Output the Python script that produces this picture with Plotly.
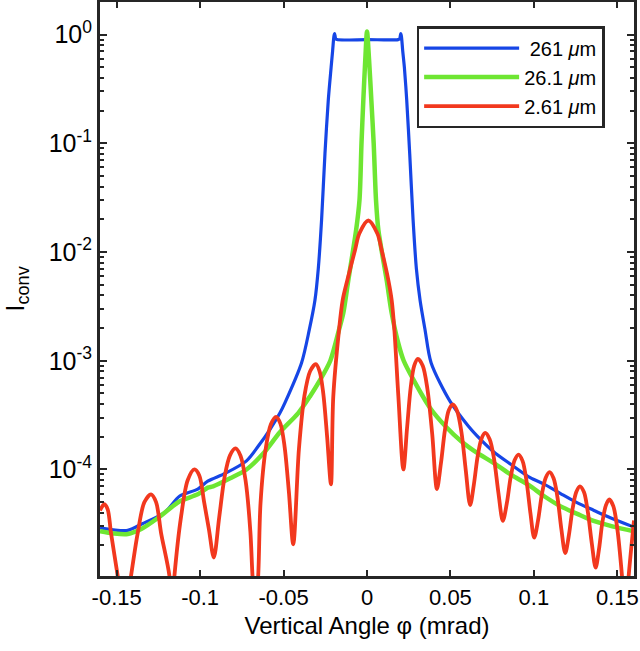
import plotly.graph_objects as go

# ---------------- data ----------------
blue_x = [-0.160, -0.152, -0.1434, -0.135, -0.1214, -0.1122, -0.1014, -0.0954, -0.0850,
          -0.0722, -0.0650, -0.0582, -0.0522, -0.0492, -0.0392, -0.0346, -0.0312, -0.0292,
          -0.0272, -0.0252, -0.0232, -0.0215, -0.0206, -0.0198, -0.0194, -0.0188, -0.0180,
          0.0000, 0.0186, 0.0196, 0.0202, 0.0206, 0.0214, 0.0224, 0.0238, 0.0256, 0.0276,
          0.0296, 0.0318, 0.0348, 0.0384, 0.0498, 0.0608, 0.0658, 0.0760, 0.0864, 0.0978,
          0.1064, 0.1160, 0.1258, 0.1360, 0.1458, 0.1600]
blue_y = [2.9e-5, 2.78e-5, 2.75e-5, 3.15e-5, 4.0e-5, 5.7e-5, 6.6e-5, 7.8e-5, 9.2e-5,
          1.2e-4, 1.65e-4, 2.33e-4, 3.3e-4, 4.1e-4, 9.6e-4, 1.92e-3, 3.6e-3, 7.0e-3,
          0.02, 0.08, 0.25, 0.5, 0.71, 0.97, 1.02, 0.92, 0.90,
          0.90, 0.90, 0.92, 1.02, 0.97, 0.71, 0.5, 0.25, 0.08, 0.02,
          7.0e-3, 3.6e-3, 1.92e-3, 9.6e-4, 4.23e-4, 2.5e-4, 2.05e-4, 1.45e-4, 1.11e-4, 8.4e-5,
          7.3e-5, 6.0e-5, 4.95e-5, 4.2e-5, 3.6e-5, 2.95e-5]

green_x = [-0.160, -0.152, -0.1434, -0.135, -0.124, -0.1122, -0.1014, -0.0954, -0.0922,
           -0.0820, -0.0722, -0.0622, -0.0522, -0.0412, -0.0342, -0.0280, -0.0220, -0.0168,
           -0.0142, -0.0112, -0.0065, -0.0045, -0.0033, -0.0022, -0.0010, 0.0000, 0.0012,
           0.0026, 0.0040, 0.0054, 0.0068, 0.0118, 0.0148, 0.0185, 0.0220, 0.0278, 0.0378,
           0.0470, 0.0568, 0.0660, 0.0758, 0.0860, 0.0968, 0.1060, 0.1158, 0.1260, 0.1358,
           0.1470, 0.1600]
green_y = [2.7e-5, 2.58e-5, 2.55e-5, 2.85e-5, 3.7e-5, 5.1e-5, 5.9e-5, 6.8e-5, 7.0e-5,
           8.3e-5, 1.0e-4, 1.4e-4, 2.2e-4, 3.3e-4, 4.7e-4, 6.7e-4, 1.0e-3, 1.92e-3,
           2.74e-3, 5.5e-3, 0.016, 0.03, 0.1, 0.25, 0.6, 1.07, 0.6,
           0.25, 0.1, 0.03, 0.016, 5.5e-3, 2.74e-3, 1.5e-3, 1.0e-3, 6.7e-4, 3.68e-4,
           2.5e-4, 1.8e-4, 1.42e-4, 1.15e-4, 9.0e-5, 7.2e-5, 5.7e-5, 4.6e-5, 3.9e-5, 3.36e-5,
           3.0e-5, 2.7e-5]

red_x = [-0.1600, -0.1574, -0.1554, -0.1534, -0.1494, -0.1454, -0.1414, -0.1374, -0.1334,
         -0.1294, -0.1264, -0.1234, -0.1184, -0.1169, -0.1154, -0.1114, -0.1074, -0.1034,
         -0.1005, -0.0976, -0.0947, -0.0918, -0.0886, -0.0853, -0.0821, -0.0788, -0.0758,
         -0.0728, -0.0699, -0.0686, -0.0669, -0.0652, -0.0638, -0.0607, -0.0576, -0.0545,
         -0.0519, -0.0494, -0.0468, -0.0442, -0.0408, -0.0375, -0.0341, -0.0307, -0.0284,
         -0.0262, -0.0239, -0.0216, -0.0202, -0.0168, -0.0146, -0.0118, -0.0072, -0.0046,
         0.0008, 0.0062, 0.0088, 0.0128, 0.0148, 0.0164, 0.0188, 0.0218, 0.0240, 0.0262,
         0.0283, 0.0305, 0.0334, 0.0362, 0.0391, 0.0419, 0.0443, 0.0467, 0.0490, 0.0514,
         0.0540, 0.0566, 0.0592, 0.0618, 0.0640, 0.0663, 0.0686, 0.0708, 0.0735, 0.0761,
         0.0788, 0.0814, 0.0838, 0.0861, 0.0885, 0.0908, 0.0932, 0.0955, 0.0979, 0.1002,
         0.1025, 0.1048, 0.1071, 0.1094, 0.1118, 0.1141, 0.1165, 0.1188, 0.1210, 0.1232,
         0.1254, 0.1276, 0.1300, 0.1323, 0.1347, 0.1370, 0.1390, 0.1411, 0.1432, 0.1452,
         0.1476, 0.1500, 0.1528, 0.1548, 0.1568, 0.1600]
red_y = [4.2e-5, 4.8e-5, 4.3e-5, 2.6e-5, 1.05e-5, 4.0e-6, 1.05e-5, 2.6e-5, 5.0e-5,
         5.9e-5, 5.0e-5, 2.6e-5, 1.05e-5, 5.0e-6, 1.05e-5, 3.7e-5, 8.0e-5, 1.0e-4,
         8.8e-5, 5.0e-5, 2.8e-5, 1.55e-5, 3.6e-5, 8.6e-5, 1.35e-4, 1.56e-4, 1.34e-4,
         8.0e-5, 2.7e-5, 1.05e-5, 5.0e-6, 1.05e-5, 4.9e-5, 1.55e-4, 2.6e-4, 3.05e-4,
         2.64e-4, 1.63e-4, 6.2e-5, 2.05e-5, 1.54e-4, 4.75e-4, 8.0e-4, 9.3e-4, 8.0e-4,
         5.0e-4, 2.0e-4, 7.3e-5, 4.7e-4, 1.9e-3, 3.6e-3, 5.5e-3, 1.04e-2, 1.48e-2,
         1.95e-2, 1.48e-2, 1.04e-2, 5.5e-3, 3.6e-3, 1.92e-3, 4.7e-4, 1.0e-4, 2.4e-4, 5.7e-4,
         9.0e-4, 1.04e-3, 9.0e-4, 5.5e-4, 2.1e-4, 6.6e-5, 1.14e-4, 2.3e-4, 3.5e-4, 3.96e-4,
         3.45e-4, 2.2e-4, 9.8e-5, 4.7e-5, 7.2e-5, 1.32e-4, 1.92e-4, 2.17e-4, 1.9e-4, 1.26e-4,
         6.0e-5, 3.36e-5, 4.9e-5, 8.5e-5, 1.22e-4, 1.37e-4, 1.2e-4, 8.0e-5, 4.0e-5, 2.36e-5,
         3.4e-5, 5.9e-5, 8.4e-5, 9.45e-5, 8.3e-5, 5.6e-5, 2.8e-5, 1.7e-5, 2.5e-5, 4.35e-5,
         6.2e-5, 7.0e-5, 6.2e-5, 4.1e-5, 2.1e-5, 1.25e-5, 1.84e-5, 3.3e-5, 4.7e-5, 5.3e-5,
         4.6e-5, 2.85e-5, 1.05e-5, 4.0e-6, 1.05e-5, 3.4e-5]

series_names = ["\u00a0261 <i>\u03bc</i>m", "26.1 <i>\u03bc</i>m", "2.61 <i>\u03bc</i>m"]
x_tick_vals = [-0.15, -0.1, -0.05, 0, 0.05, 0.1, 0.15]
x_tick_text = ["-0.15", "-0.1", "-0.05", "0", "0.05", "0.1", "0.15"]
y_tick_vals = [1e-4, 1e-3, 1e-2, 1e-1, 1]
y_tick_text = ["10<sup>-4</sup>", "10<sup>-3</sup>", "10<sup>-2</sup>",
               "10<sup>-1</sup>", "10<sup>0</sup>"]

# ---------------- figure ----------------
FONT = "Liberation Sans, Arial, Helvetica, sans-serif"
AX = "#262626"

fig = go.Figure()
fig.add_trace(go.Scatter(x=blue_x, y=blue_y, mode="lines", name=series_names[0],
                         line=dict(color="#1646e6", width=3.2, shape="spline", smoothing=0.8)))
fig.add_trace(go.Scatter(x=green_x, y=green_y, mode="lines", name=series_names[1],
                         line=dict(color="#6ee632", width=4.5, shape="spline", smoothing=0.8)))
fig.add_trace(go.Scatter(x=red_x, y=red_y, mode="lines", name=series_names[2],
                         line=dict(color="#f2381e", width=3.8, shape="spline", smoothing=0.9)))

minor_y = [k * 10.0 ** e for e in range(-5, 1) for k in range(2, 10)]

fig.update_layout(
    template="none",
    width=640, height=651,
    margin=dict(l=100, r=6, t=2, b=75, autoexpand=False),
    paper_bgcolor="white", plot_bgcolor="white",
    font=dict(family=FONT, size=22, color="black"),
    showlegend=True,
    legend=dict(x=0.945, y=0.958, xanchor="right", yanchor="top",
                bgcolor="white", bordercolor=AX, borderwidth=2.5,
                font=dict(family=FONT, size=20, color="black"),
                itemwidth=95, tracegroupgap=0),
    xaxis=dict(range=[-0.16, 0.16], tickmode="array", tickvals=x_tick_vals,
               ticktext=x_tick_text, ticks="inside", ticklen=6, tickwidth=2,
               tickcolor=AX, showline=True, linewidth=3, linecolor=AX, mirror="ticks",
               showgrid=False, zeroline=False, automargin=False,
               tickfont=dict(family=FONT, size=22, color="black"),
               title=dict(text="Vertical Angle \u03c6 (mrad)",
                          font=dict(family=FONT, size=24, color="black"), standoff=8)),
    yaxis=dict(type="log", range=[-4.98, 0.30], tickmode="array", tickvals=y_tick_vals,
               ticktext=y_tick_text, ticks="inside", ticklen=7, tickwidth=2,
               tickcolor=AX, showline=True, linewidth=3, linecolor=AX, mirror="ticks",
               showgrid=False, zeroline=False, automargin=False,
               tickfont=dict(family=FONT, size=25, color="black"),
               minor=dict(tickmode="array", tickvals=minor_y, ticks="inside",
                          ticklen=4, tickwidth=1.5, tickcolor=AX, showgrid=False),
               title=dict(text="I<sub>conv</sub>",
                          font=dict(family=FONT, size=26, color="black"), standoff=24)),
)

fig.write_html("out.html", config={"displayModeBar": False},
               post_script="document.body.style.margin='0px';document.body.style.padding='0px';")
